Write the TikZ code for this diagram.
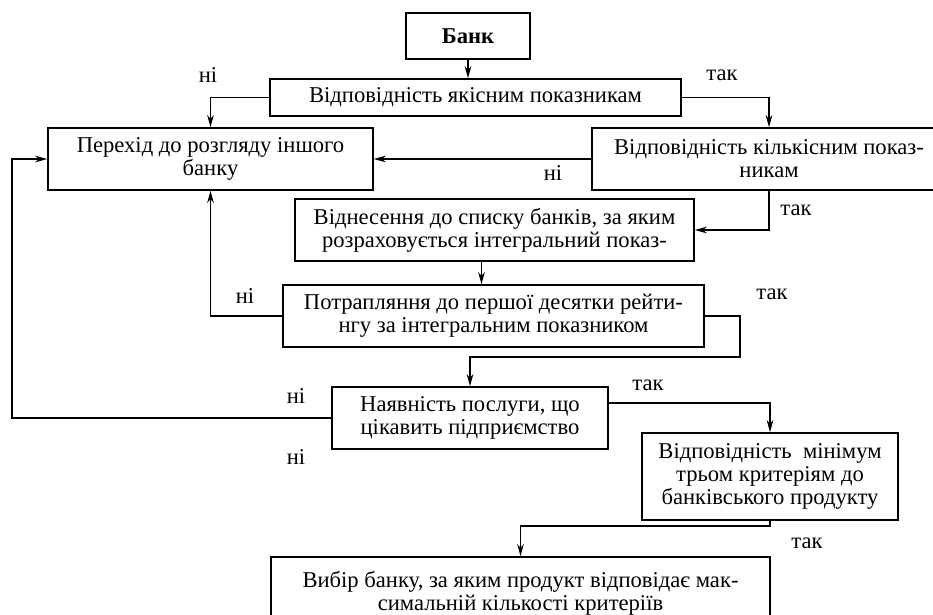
\documentclass[tikz,border=0pt]{standalone}
\usepackage{fontspec}
\setmainfont{Liberation Serif}
\usetikzlibrary{arrows.meta,calc}
\begin{document}
\begin{tikzpicture}[x=1pt,y=-1pt,
  box/.style={draw,line width=1.5pt,inner sep=0pt,align=center,font=\fontsize{22.6}{23}\selectfont},
  lbl/.style={inner sep=0pt,font=\fontsize{22.6}{23}\selectfont},
  conn/.style={line width=1.8pt,-{Stealth[length=12pt,width=6.5pt,inset=3.5pt]}}]
\useasboundingbox (0,0) rectangle (933,614);
\clip (0,0) rectangle (933,614);
\fill[white] (0,0) rectangle (933,614);
% boxes
\node[box,minimum width=124pt,minimum height=46pt,font=\fontsize{22.6}{23}\selectfont\bfseries] (b1) at (468,36) {Банк};
\node[box,minimum width=411pt,minimum height=37pt] (b2) at (475.5,97.5) {Відповідність якісним показникам};
\node[box,minimum width=325pt,minimum height=62pt] (b3) at (210.5,159) {Перехід до розгляду іншого\\банку};
\node[box,minimum width=354pt,minimum height=62pt] (b4) at (769,159) {Відповідність кількісним показ-\\никам};
\node[box,minimum width=399pt,minimum height=62pt] (b5) at (494.5,230) {Віднесення до списку банків, за яким\\розраховується інтегральний показ-};
\node[box,minimum width=421pt,minimum height=62pt] (b6) at (493.5,316) {Потрапляння до першої десятки рейти-\\нгу за інтегральним показником};
\node[box,minimum width=276pt,minimum height=62pt] (b7) at (470,418) {Наявність послуги, що\\цікавить підприємство};
\node[box,minimum width=256pt,minimum height=87pt] (b8) at (770,476.5) {Відповідність~~мінімум\\трьом критеріям до\\банківського продукту};
\node[box,minimum width=499pt,minimum height=72pt] (b9) at (520.5,593) {Вибір банку, за яким продукт відповідає мак-\\симальній кількості критеріїв};
% helper coordinates
\coordinate (c1) at (740,357);
\coordinate (c2) at (12,159);
\coordinate (c3) at (770,526);
% connectors
\draw[conn] (b1.south) -- (b1.south |- b2.north);
\draw[conn] (b2.west) -| (b3.north);
\draw[conn] (b2.east) -| (b4.north);
\draw[conn] (b4.west) -- (b3.east);
\draw[conn] (b4.south) |- (b5.east);
\draw[conn] ([xshift=-13pt]b5.south) -- ([xshift=-13pt]b5.south |- b6.north);
\draw[conn] (b6.west) -| (b3.south);
\draw[conn] (b6.east) -| (c1) -| (b7.north);
\draw[conn] (b7.west) -| (c2) -- (b3.west);
\draw[conn] ([yshift=15pt]b7.east) -| (b8.north);
\draw[conn] (b8.south) -- (c3) -| (b9.north);
% labels
\node[lbl] (l1) at (208,75) {ні};
\node[lbl] (l2) at (722,75) {так};
\node[lbl] (l3) at (553,173) {ні};
\node[lbl] (l4) at (796,210) {так};
\node[lbl] (l5) at (245,296) {ні};
\node[lbl] (l6) at (772,294) {так};
\node[lbl] (l7) at (648,385) {так};
\node[lbl] (l8) at (296,396) {ні};
\node[lbl] (l9) at (296,457) {ні};
\node[lbl] (l10) at (807,543) {так};
\end{tikzpicture}
\end{document}
